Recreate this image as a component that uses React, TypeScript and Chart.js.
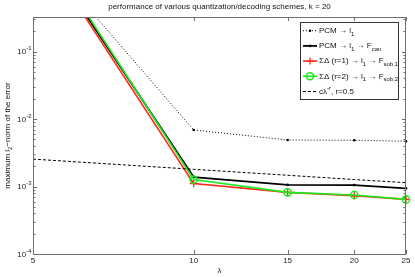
import React, { useEffect, useRef } from "react";
import { Chart, registerables } from "chart.js";

Chart.register(...registerables);

const FONT = '"Liberation Sans", Arial, Helvetica, sans-serif';

// ---- data ----
const lambdaValues = [5, 10, 15, 20, 25];
const pcmL1 = [3.9, 0.0069, 0.0049, 0.00485, 0.0047];
const pcmL1Fcan = [5.3, 0.00138, 0.00106, 0.00105, 0.00094];
const sigmaDelta1 = [5.0, 0.00111, 0.00082, 0.00073, 0.000645];
const sigmaDelta2 = [6.3, 0.00127, 0.00082, 0.00075, 0.000645];
const refCurve = [0.00255, 0.0018, 0.00147, 0.00127, 0.00114];
const xTickValues = [5, 10, 15, 20, 25];
const yDecadeExponents = [-4, -3, -2, -1];
const yMin = 1e-4;
const yMax = 0.326;

const RED = "#ff2a1a";
const GREEN = "#1ee81e";
const AXIS = "#6f6f6f";

type Seg = { t: string; s?: "sub" | "sup" };

const titleText = "performance of various quantization/decoding schemes, k = 20";
const yLabelSegs: Seg[] = [
  { t: "maximum l" },
  { t: "2", s: "sub" },
  { t: "\u2212norm of the error" },
];
const legendEntries: { segs: Seg[]; kind: string }[] = [
  { kind: "dotted", segs: [{ t: "PCM \u2192 l" }, { t: "1", s: "sub" }] },
  {
    kind: "black",
    segs: [{ t: "PCM \u2192 l" }, { t: "1", s: "sub" }, { t: " \u2192 F" }, { t: "can", s: "sub" }],
  },
  {
    kind: "red",
    segs: [
      { t: "\u03A3\u0394 (r=1) \u2192 l" },
      { t: "1", s: "sub" },
      { t: " \u2192 F" },
      { t: "sob,1", s: "sub" },
    ],
  },
  {
    kind: "green",
    segs: [
      { t: "\u03A3\u0394 (r=2) \u2192 l" },
      { t: "1", s: "sub" },
      { t: " \u2192 F" },
      { t: "sob,2", s: "sub" },
    ],
  },
  { kind: "dashed", segs: [{ t: "c\u03BB" }, { t: "-r", s: "sup" }, { t: ", r=0.5" }] },
];

function toPoints(arr: number[]) {
  return lambdaValues.map((x, i) => ({ x, y: arr[i] }));
}

function drawRich(
  ctx: CanvasRenderingContext2D,
  segs: Seg[],
  x: number,
  y: number,
  size: number,
  align: "left" | "center" | "right"
) {
  const main = `${size}px ${FONT}`;
  const small = `${Math.round(size * 0.75 * 10) / 10}px ${FONT}`;
  let w = 0;
  for (const s of segs) {
    ctx.font = s.s ? small : main;
    w += ctx.measureText(s.t).width;
  }
  let cx = align === "center" ? x - w / 2 : align === "right" ? x - w : x;
  ctx.textAlign = "left";
  ctx.textBaseline = "middle";
  for (const s of segs) {
    ctx.font = s.s ? small : main;
    const dy = s.s === "sub" ? size * 0.4 : s.s === "sup" ? -size * 0.45 : 0;
    ctx.fillText(s.t, cx, y + dy);
    cx += ctx.measureText(s.t).width;
  }
}

const decorPlugin = {
  id: "decor",
  afterDatasetsDraw(chart: any) {
    const ctx: CanvasRenderingContext2D = chart.ctx;
    const { left, right, top, bottom } = chart.chartArea;
    const xs = chart.scales.x;
    const ys = chart.scales.y;
    ctx.save();

    // frame
    ctx.strokeStyle = AXIS;
    ctx.lineWidth = 1;
    ctx.strokeRect(left + 0.5, top + 0.5, right - left - 1, bottom - top);

    // y ticks (major + minor), inside, both sides
    ctx.beginPath();
    for (let e = -4; e <= 0; e++) {
      for (let k = 1; k <= 9; k++) {
        const v = k * Math.pow(10, e);
        if (v < yMin * 0.999 || v > yMax) continue;
        const py = Math.round(ys.getPixelForValue(v)) + 0.5;
        const len = k === 1 ? 4 : 2.5;
        ctx.moveTo(left, py);
        ctx.lineTo(left + len, py);
        ctx.moveTo(right, py);
        ctx.lineTo(right - len, py);
      }
    }
    // x ticks
    for (const v of xTickValues) {
      const px = Math.round(xs.getPixelForValue(v)) + 0.5;
      ctx.moveTo(px, bottom);
      ctx.lineTo(px, bottom - 4);
      ctx.moveTo(px, top);
      ctx.lineTo(px, top + 4);
    }
    ctx.stroke();

    // y tick labels
    ctx.fillStyle = "#222";
    for (const e of yDecadeExponents) {
      const py = ys.getPixelForValue(Math.pow(10, e));
      drawRich(ctx, [{ t: "10" }, { t: String(e), s: "sup" }], 31.5, py + 0.5, 8, "right");
    }

    // title
    ctx.fillStyle = "#111";
    drawRich(ctx, [{ t: titleText }], (left + right) / 2, 7, 8, "center");

    // x label
    drawRich(ctx, [{ t: "\u03BB" }], (left + right) / 2, 271, 8, "center");

    // y label
    ctx.save();
    ctx.translate(7.5, (top + bottom) / 2);
    ctx.rotate(-Math.PI / 2);
    drawRich(ctx, yLabelSegs, 0, 0, 8, "center");
    ctx.restore();

    // legend
    const bx = 300.5,
      by = 22.5,
      bw = 98,
      bh = 77;
    ctx.fillStyle = "#fff";
    ctx.fillRect(bx, by, bw, bh);
    ctx.strokeStyle = "#333";
    ctx.lineWidth = 1;
    ctx.strokeRect(bx, by, bw, bh);
    legendEntries.forEach((en, i) => {
      const y = 30.7 + i * 15.2;
      const x0 = 303,
        x1 = 317,
        xm = 310;
      ctx.save();
      ctx.beginPath();
      ctx.moveTo(x0, y);
      ctx.lineTo(x1, y);
      if (en.kind === "dotted") {
        ctx.setLineDash([1, 2]);
        ctx.strokeStyle = "#000";
        ctx.lineWidth = 1;
      } else if (en.kind === "dashed") {
        ctx.setLineDash([3, 2]);
        ctx.strokeStyle = "#000";
        ctx.lineWidth = 1;
      } else if (en.kind === "black") {
        ctx.strokeStyle = "#000";
        ctx.lineWidth = 1.8;
      } else if (en.kind === "red") {
        ctx.strokeStyle = RED;
        ctx.lineWidth = 1.6;
      } else {
        ctx.strokeStyle = GREEN;
        ctx.lineWidth = 1.6;
      }
      ctx.stroke();
      ctx.setLineDash([]);
      if (en.kind === "dotted" || en.kind === "black") {
        ctx.fillStyle = "#000";
        ctx.beginPath();
        ctx.arc(xm, y, 1.3, 0, Math.PI * 2);
        ctx.fill();
      } else if (en.kind === "red") {
        ctx.beginPath();
        ctx.lineWidth = 1.3;
        ctx.moveTo(xm - 3.5, y);
        ctx.lineTo(xm + 3.5, y);
        ctx.moveTo(xm, y - 3.5);
        ctx.lineTo(xm, y + 3.5);
        ctx.stroke();
      } else if (en.kind === "green") {
        ctx.beginPath();
        ctx.lineWidth = 1.5;
        ctx.arc(xm, y, 3.5, 0, Math.PI * 2);
        ctx.stroke();
      }
      ctx.restore();
      ctx.fillStyle = "#111";
      drawRich(ctx, en.segs, 319, y, 8, "left");
    });

    ctx.restore();
  },
};

export default function App() {
  const ref = useRef<HTMLCanvasElement | null>(null);
  useEffect(() => {
    if (!ref.current) return;
    const clip = { left: 0, top: 0, right: 8, bottom: 0 };
    const chart = new Chart(ref.current, {
      type: "line",
      data: {
        datasets: [
          {
            label: "PCM -> l1",
            data: toPoints(pcmL1),
            borderColor: "#000",
            borderWidth: 1,
            borderDash: [1, 2],
            pointStyle: "circle",
            pointRadius: 1.3,
            pointBackgroundColor: "#000",
            pointBorderWidth: 0,
            tension: 0,
            fill: false,
            clip,
            order: 5,
          },
          {
            label: "PCM -> l1 -> Fcan",
            data: toPoints(pcmL1Fcan),
            borderColor: "#000",
            borderWidth: 1.8,
            pointStyle: "circle",
            pointRadius: 1.3,
            pointBackgroundColor: "#000",
            pointBorderWidth: 0,
            tension: 0,
            fill: false,
            clip,
            order: 4,
          },
          {
            label: "SD r=1",
            data: toPoints(sigmaDelta1),
            borderColor: RED,
            borderWidth: 1.6,
            pointStyle: "cross",
            pointRadius: 3.8,
            pointBorderColor: RED,
            pointBorderWidth: 1.3,
            tension: 0,
            fill: false,
            clip,
            order: 3,
          },
          {
            label: "SD r=2",
            data: toPoints(sigmaDelta2),
            borderColor: GREEN,
            borderWidth: 1.6,
            pointStyle: "circle",
            pointRadius: 3.6,
            pointBackgroundColor: "rgba(0,0,0,0)",
            pointBorderColor: GREEN,
            pointBorderWidth: 1.5,
            tension: 0,
            fill: false,
            clip,
            order: 2,
          },
          {
            label: "c lambda^-r",
            data: toPoints(refCurve),
            borderColor: "#000",
            borderWidth: 1,
            borderDash: [3, 2],
            pointRadius: 0,
            tension: 0,
            fill: false,
            clip,
            order: 1,
          },
        ],
      },
      options: {
        animation: false,
        responsive: true,
        maintainAspectRatio: false,
        events: [],
        layout: { padding: { top: 17, right: 9, left: 0, bottom: 0 } },
        plugins: {
          legend: { display: false },
          title: { display: false },
          tooltip: { enabled: false },
        },
        scales: {
          x: {
            type: "logarithmic",
            position: "bottom",
            min: 5,
            max: 25,
            grid: { display: false, drawTicks: false },
            border: { display: false },
            afterBuildTicks: (scale: any) => {
              scale.ticks = xTickValues.map((v) => ({ value: v }));
            },
            afterFit: (scale: any) => {
              scale.height = 23;
            },
            ticks: {
              autoSkip: false,
              maxRotation: 0,
              padding: 2,
              color: "#222",
              font: { family: FONT, size: 8 },
              callback: (v: any) => String(v),
            },
          },
          y: {
            type: "logarithmic",
            min: yMin,
            max: yMax,
            grid: { display: false, drawTicks: false },
            border: { display: false },
            ticks: { display: false },
            afterFit: (scale: any) => {
              scale.width = 33;
            },
          },
        },
      },
      plugins: [decorPlugin],
    } as any);
    return () => chart.destroy();
  }, []);
  return (
    <div style={{ position: "absolute", left: 0, top: 0, width: 415, height: 277, background: "#fff" }}>
      <canvas ref={ref} />
    </div>
  );
}
